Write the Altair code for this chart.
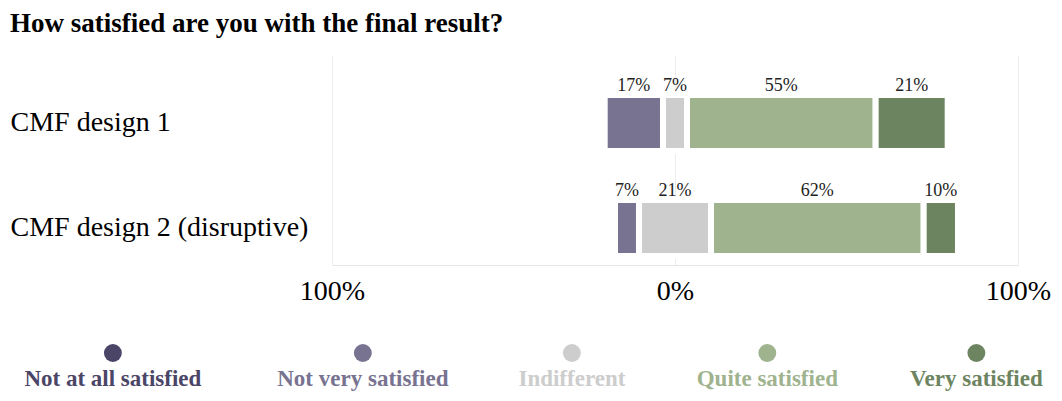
import altair as alt
import pandas as pd

# ---- data ----
categories = ["CMF design 1", "CMF design 2 (disruptive)"]
responses = ["Not at all satisfied", "Not very satisfied", "Indifferent",
             "Quite satisfied", "Very satisfied"]
design1 = [0, 17, 7, 55, 21]
design2 = [0, 7, 21, 62, 10]
tick_values = [-100, 0, 100]

colors = ["#4b4567", "#787391", "#cdcdcd", "#a0b38f", "#6d8460"]
FONT = "Liberation Serif"

# ---- diverging layout (indifferent centred on 0) ----
rows = []
for cat, vals in zip(categories, [design1, design2]):
    start = -vals[2] / 2 - vals[1] - vals[0]
    for resp, v in zip(responses, vals):
        rows.append(dict(category=cat, response=resp, value=v,
                         start=start, end=start + v))
        start += v
df = pd.DataFrame(rows)
df = df[df["value"] > 0].copy()
df["label"] = df["value"].astype(str) + "%"
df["mid"] = (df["start"] + df["end"]) / 2

# legend items laid out by label length (characters) with a fixed gap
GAP = 8.5
lens = [len(r) for r in responses]
pos, acc = [], 0.0
for L in lens:
    pos.append(acc + L / 2)
    acc += L + GAP
total = acc - GAP
leg = pd.DataFrame({"response": responses, "pos": pos})

color_scale = alt.Scale(domain=responses, range=colors)
x_scale = alt.Scale(domain=[-100, 100], nice=False, zero=False)
y_enc = alt.Y("category:N", sort=categories,
              scale=alt.Scale(paddingInner=0, paddingOuter=0),
              axis=alt.Axis(title=None, labelAlign="left", labelPadding=322,
                            labelFont=FONT, labelFontSize=28, labelColor="black",
                            labelLimit=0, ticks=False, domain=False, grid=False,
                            labelOffset=15.5))

bars = alt.Chart(df).mark_bar(stroke="white", strokeWidth=6, size=56,
                              yOffset=15.5).encode(
    x=alt.X("start:Q", scale=x_scale,
            axis=alt.Axis(values=tick_values, title=None,
                          labelExpr="abs(datum.value) + '%'",
                          labelFont=FONT, labelFontSize=28, labelColor="black",
                          labelPadding=12, labelFlush=False, ticks=False,
                          tickSize=0, grid=True, gridColor="#ededed",
                          domainColor="#e6e6e6")),
    x2="end:Q",
    y=y_enc,
    color=alt.Color("response:N", scale=color_scale, legend=None),
)

labels = alt.Chart(df).mark_text(font=FONT, fontSize=18, color="#222222",
                                 baseline="alphabetic", dy=-17).encode(
    x=alt.X("mid:Q", scale=x_scale),
    y=alt.Y("category:N", sort=categories),
    text="label:N",
)

main = alt.layer(bars, labels)

leg_x = alt.X("pos:Q", scale=alt.Scale(domain=[0, total], range=[-310, 708],
                                       nice=False, zero=False), axis=None)
leg_dots = alt.Chart(leg).mark_circle(size=320, opacity=1).encode(
    x=leg_x, y=alt.value(298),
    color=alt.Color("response:N", scale=color_scale, legend=None),
)
leg_text = alt.Chart(leg).mark_text(font=FONT, fontSize=23, fontWeight="bold",
                                    baseline="alphabetic").encode(
    x=leg_x, y=alt.value(331), text="response:N",
    color=alt.Color("response:N", scale=color_scale, legend=None),
)
legend = alt.layer(leg_dots, leg_text)

chart = alt.layer(main, legend).resolve_scale(x="independent").properties(
    width=686, height=210,
    title=alt.TitleParams("How satisfied are you with the final result?",
                          anchor="start", font=FONT, fontSize=27,
                          fontWeight="bold", color="black", offset=17),
    padding={"left": 2, "top": 2, "right": 0, "bottom": 0},
).configure_view(stroke=None)

chart.save("out.html", embed_options={"renderer": "svg", "actions": False})
